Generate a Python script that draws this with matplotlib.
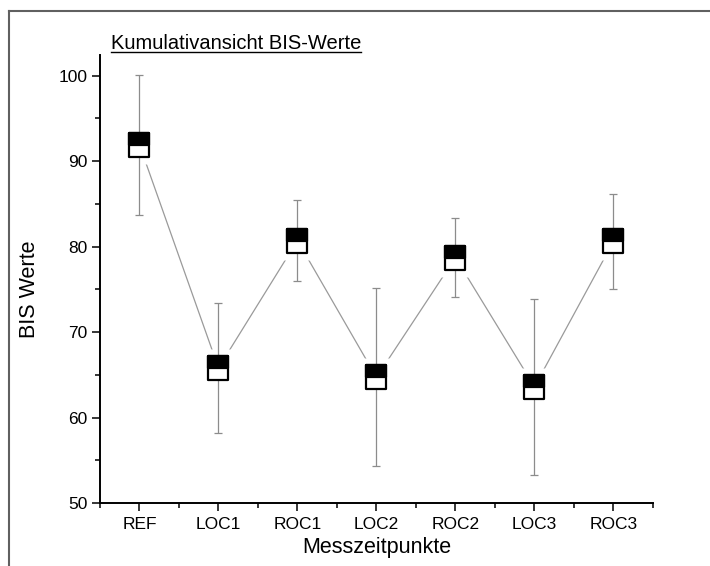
import matplotlib
matplotlib.use("Agg")
import matplotlib.pyplot as plt
from matplotlib.lines import Line2D
from matplotlib.path import Path
from matplotlib.ticker import MultipleLocator, FixedLocator

plt.rcParams['font.family'] = ['Liberation Sans', 'DejaVu Sans']

categories = ["REF", "LOC1", "ROC1", "LOC2", "ROC2", "LOC3", "ROC3"]
means = [91.9, 65.8, 80.7, 64.7, 78.7, 63.6, 80.6]
sds = [8.2, 7.6, 4.7, 10.4, 4.6, 10.3, 5.6]

title = "Kumulativansicht BIS-Werte"
xlabel = "Messzeitpunkte"
ylabel = "BIS Werte"

fig = plt.figure(figsize=(7.10, 5.66), dpi=100)
ax = fig.add_axes([0.1408, 0.1113, 0.7789, 0.7915])

x = list(range(1, len(categories) + 1))

hw = 0.437
full_box = Path([(-hw, -0.5), (hw, -0.5), (hw, 0.5), (-hw, 0.5), (-hw, -0.5)],
                [Path.MOVETO, Path.LINETO, Path.LINETO, Path.LINETO, Path.CLOSEPOLY])
top_box = Path([(-hw, -0.02), (hw, -0.02), (hw, 0.5), (-hw, 0.5), (-hw, -0.02)],
               [Path.MOVETO, Path.LINETO, Path.LINETO, Path.LINETO, Path.CLOSEPOLY])

# connecting line
ax.plot(x, means, color='#9a9a9a', lw=0.9, zorder=1)
# white halo to create gaps
ax.plot(x, means, ls='none', marker=full_box, ms=28, mfc='white', mec='none', zorder=2)
# error bars
ax.errorbar(x, means, yerr=sds, fmt='none', ecolor='#8c8c8c', elinewidth=0.9,
            capsize=3, capthick=0.9, zorder=3)
# half-filled box markers
ax.plot(x, means, ls='none', marker=full_box, ms=17.1,
        mfc='white', mec='black', mew=1.6, zorder=4)
ax.plot(x, means, ls='none', marker=top_box, ms=17.1,
        mfc='black', mec='black', mew=1.6, zorder=5)

ax.set_xlim(0.5, 7.5)
ax.set_ylim(50, 102.4)
ax.xaxis.set_major_locator(FixedLocator(x))
ax.set_xticklabels(categories)
ax.xaxis.set_minor_locator(FixedLocator([i + 0.5 for i in range(0, 8)]))
ax.yaxis.set_major_locator(MultipleLocator(10))
ax.yaxis.set_minor_locator(MultipleLocator(5))

for s in ['top', 'right']:
    ax.spines[s].set_visible(False)
for s in ['left', 'bottom']:
    ax.spines[s].set_linewidth(1.4)
    ax.spines[s].set_color('black')

ax.tick_params(axis='both', which='major', direction='out', length=6, width=1.1,
               labelsize=12.5, color='black')
ax.tick_params(axis='both', which='minor', direction='out', length=3.5, width=1.1,
               color='black')
ax.tick_params(axis='x', which='major', pad=4)
ax.tick_params(axis='y', which='major', pad=3)

ax.set_xlabel(xlabel, fontsize=15.5, labelpad=4)
ax.set_ylabel(ylabel, fontsize=15.5)
ax.yaxis.set_label_coords(-0.108, 0.478)

# title with underline
t = fig.text(111 / 710, 1 - 49 / 566, title, fontsize=14.5, ha='left', va='baseline')
fig.canvas.draw()
bb = t.get_window_extent().transformed(fig.transFigure.inverted())
uy = 1 - 51.5 / 566
fig.add_artist(Line2D([bb.x0, bb.x1], [uy, uy], transform=fig.transFigure,
                      color='black', lw=1.0))

# outer frame (top and left)
fy = 1 - 11 / 566
fx = 9 / 710
fig.add_artist(Line2D([fx, 1.0], [fy, fy], transform=fig.transFigure,
                      color='#606060', lw=1.5))
fig.add_artist(Line2D([fx, fx], [0, fy], transform=fig.transFigure,
                      color='#606060', lw=1.5))

fig.savefig("out.png", dpi=100)
